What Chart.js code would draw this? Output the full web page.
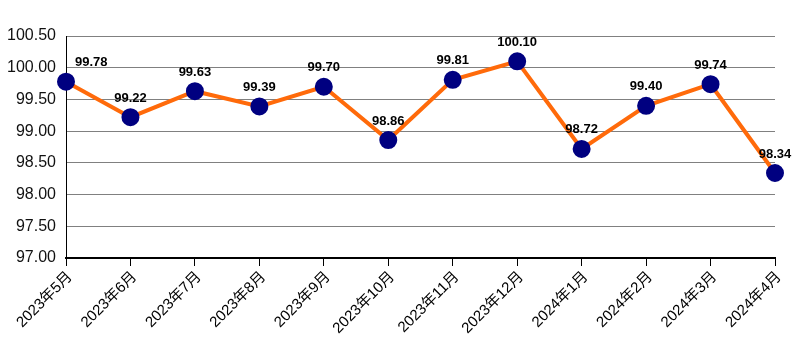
<!DOCTYPE html>
<html>
<head>
<meta charset="utf-8">
<script src="https://cdn.jsdelivr.net/npm/chart.js@4"></script>
<style>
  html, body { margin: 0; padding: 0; background: #fff; }
  #wrap { width: 794px; height: 340px; }
</style>
</head>
<body>
<div id="wrap"><canvas id="c" width="794" height="340"></canvas></div>
<script>
const months = ['2023年5月', '2023年6月', '2023年7月', '2023年8月', '2023年9月', '2023年10月',
  '2023年11月', '2023年12月', '2024年1月', '2024年2月', '2024年3月', '2024年4月'];
const values = [99.78, 99.22, 99.63, 99.39, 99.70, 98.86, 99.81, 100.10, 98.72, 99.40, 99.74, 98.34];
const yMin = 97.0;
const yMax = 100.5;
const yStep = 0.5;

const FONT = "'Liberation Sans', Arial, 'Noto Sans CJK SC', sans-serif";

// value labels above each marker, nudged right if they would hit the y axis
const valueLabels = {
  id: 'valueLabels',
  afterDatasetsDraw(chart) {
    const { ctx, chartArea } = chart;
    const meta = chart.getDatasetMeta(0);
    ctx.save();
    ctx.font = 'bold 13px ' + FONT;
    ctx.fillStyle = '#000';
    ctx.textBaseline = 'middle';
    ctx.textAlign = 'left';
    meta.data.forEach((pt, i) => {
      const txt = values[i].toFixed(2);
      const w = ctx.measureText(txt).width;
      const x = Math.max(pt.x - w / 2, chartArea.left + 9);
      ctx.fillText(txt, x, pt.y - 19);
    });
    ctx.restore();
  }
};

new Chart(document.getElementById('c'), {
  type: 'line',
  data: {
    labels: months,
    datasets: [{
      data: values,
      borderColor: '#ff6a0a',
      borderWidth: 4,
      pointBackgroundColor: '#000080',
      pointBorderColor: '#000080',
      pointRadius: 7,
      pointHoverRadius: 7,
      tension: 0,
      clip: false,
    }],
  },
  options: {
    responsive: false,
    animation: false,
    layout: { padding: { top: 36, right: 19, left: 0, bottom: 0 } },
    plugins: { legend: { display: false }, tooltip: { enabled: false } },
    scales: {
      x: {
        offset: false,
        grid: { display: true, drawOnChartArea: false, drawTicks: true, tickLength: 8, color: '#000', lineWidth: 1 },
        border: { display: true, color: '#000', width: 2 },
        ticks: {
          color: '#000',
          font: { family: FONT, size: 15 },
          maxRotation: 45, minRotation: 45,
          autoSkip: false,
          padding: 2,
          labelOffset: 4,
        },
        afterFit(scale) { scale.height = 82; },
      },
      y: {
        min: yMin, max: yMax,
        grid: { color: '#808080', lineWidth: 1, drawTicks: false },
        border: { display: true, color: '#000', width: 1 },
        ticks: {
          stepSize: yStep,
          color: '#111',
          font: { family: FONT, size: 16 },
          padding: 10,
          callback: v => v.toFixed(2),
        },
        afterFit(scale) { scale.width = 66; },
      },
    },
  },
  plugins: [valueLabels],
});
</script>
</body>
</html>
